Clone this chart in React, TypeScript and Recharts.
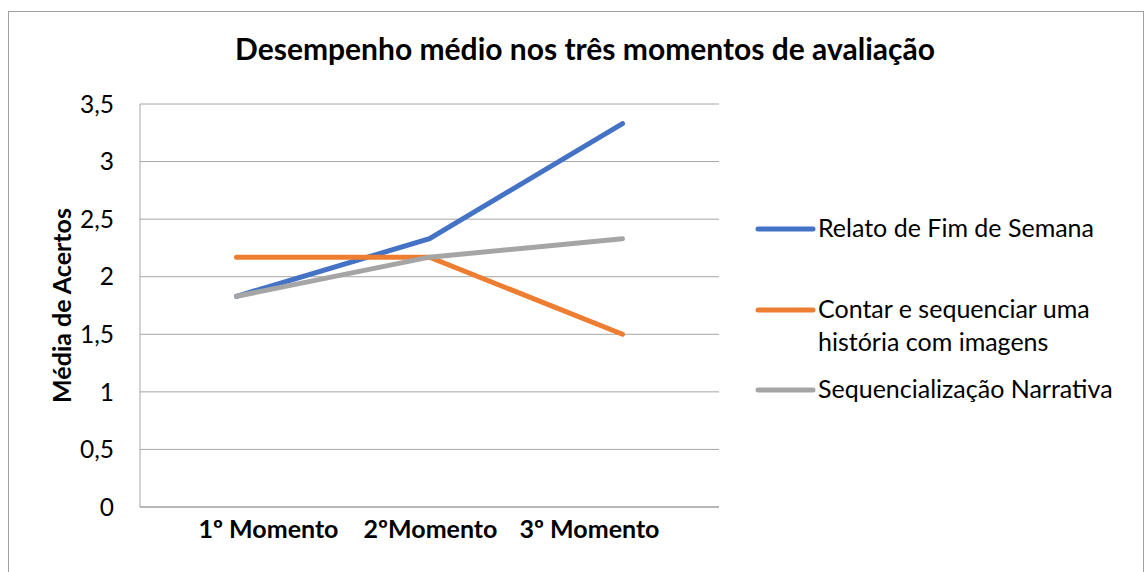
import React from 'react';
import { LineChart, Line, XAxis, YAxis, CartesianGrid, Legend } from 'recharts';

const categories = ['1º Momento', '2ºMomento', '3º Momento'];
const relato = [1.83, 2.33, 3.33];
const contar = [2.17, 2.17, 1.5];
const sequencializacao = [1.83, 2.17, 2.33];
const yTicks = [0, 0.5, 1, 1.5, 2, 2.5, 3, 3.5];

const seriesNames = ['Relato de Fim de Semana', 'Contar e sequenciar uma história com imagens', 'Sequencialização Narrativa'];
const seriesColors = ['#4472C4', '#ED7D31', '#A5A5A5'];
const legendLines = [['Relato de Fim de Semana'], ['Contar e sequenciar uma', 'história com imagens'], ['Sequencialização Narrativa']];

const data = categories.map((c, i) => ({
  name: c,
  relato: relato[i],
  contar: contar[i],
  seq: sequencializacao[i],
}));

const FONT = 'Lato, "Liberation Sans", sans-serif';
const labelShift = [32, 1, -33];
const legendGaps = [48, 14, 0];

const XTick = (props: any) => {
  const { x, y, payload, index } = props;
  return (
    <text x={x + labelShift[index]} y={y} dy={23} textAnchor="middle" fontFamily={FONT} fontWeight={700} fontSize={25} fill="#000">
      {payload.value}
    </text>
  );
};

const LegendContent = () => (
  <div style={{ fontFamily: FONT, fontSize: 25, color: '#000' }}>
    {legendLines.map((lines, i) => (
      <div key={i} style={{ display: 'flex', alignItems: 'flex-start', marginBottom: legendGaps[i] }}>
        <svg width={63} height={33} style={{ flex: 'none' }}>
          <line x1={3} y1={18} x2={58} y2={18} stroke={seriesColors[i]} strokeWidth={5} strokeLinecap="round" />
        </svg>
        <div style={{ lineHeight: '33px', whiteSpace: 'nowrap' }}>
          {lines.map((l, j) => (
            <div key={j}>{l}</div>
          ))}
        </div>
      </div>
    ))}
  </div>
);

export default function App() {
  return (
    <div style={{ position: 'absolute', left: 0, top: 0, width: 1144, height: 572, overflow: 'hidden', background: '#fff' }}>
      <div style={{ position: 'absolute', left: 8, top: 11, width: 1134, height: 620, border: '1px solid #A0A0A0' }} />
      <div style={{ position: 'absolute', left: 0, top: 30, width: 1170, textAlign: 'center', fontFamily: FONT, fontWeight: 700, fontSize: 30, color: '#000', whiteSpace: 'nowrap' }}>
        Desempenho médio nos três momentos de avaliação
      </div>
      <div style={{ position: 'absolute', left: 0, top: 0 }}>
        <LineChart width={1144} height={572} data={data} margin={{ top: 104, right: 425, bottom: 5, left: 60 }}>
          <CartesianGrid vertical={false} stroke="#A6A6A6" strokeWidth={1} />
          <XAxis
            dataKey="name"
            height={60}
            padding={{ left: 96.5, right: 96.5 }}
            axisLine={{ stroke: '#9A9A9A' }}
            tickLine={false}
            tick={<XTick />}
            interval={0}
          />
          <YAxis
            width={80}
            domain={[0, 3.5]}
            ticks={yTicks}
            axisLine={{ stroke: '#A6A6A6' }}
            tickLine={false}
            tickSize={20}
            tickMargin={6}
            tickFormatter={(v: number) => String(v).replace('.', ',')}
            tick={{ fontFamily: FONT, fontSize: 24.5, fill: '#000' }}
            label={{
              content: (p: any) => {
                const vb = p.viewBox;
                const cx = vb.x + 1;
                const cy = vb.y + vb.height / 2;
                return (
                  <text x={cx} y={cy} transform={`rotate(-90, ${cx}, ${cy})`} textAnchor="middle" dominantBaseline="central" fontFamily={FONT} fontWeight={700} fontSize={25} fill="#000">
                    Média de Acertos
                  </text>
                );
              },
            }}
          />
          <Legend
            layout="vertical"
            align="center"
            verticalAlign="middle"
            content={<LegendContent />}
            wrapperStyle={{ left: 755, top: 211, width: 385 }}
          />
          <Line type="linear" dataKey="relato" name={seriesNames[0]} stroke={seriesColors[0]} strokeWidth={5} strokeLinecap="round" dot={false} isAnimationActive={false} />
          <Line type="linear" dataKey="contar" name={seriesNames[1]} stroke={seriesColors[1]} strokeWidth={5} strokeLinecap="round" dot={false} isAnimationActive={false} />
          <Line type="linear" dataKey="seq" name={seriesNames[2]} stroke={seriesColors[2]} strokeWidth={5} strokeLinecap="round" dot={false} isAnimationActive={false} />
        </LineChart>
      </div>
    </div>
  );
}
